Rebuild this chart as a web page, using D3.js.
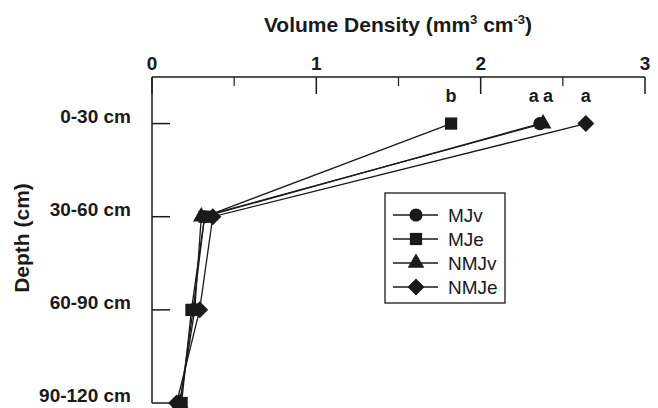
<!DOCTYPE html>
<html>
<head>
<meta charset="utf-8">
<script src="https://cdn.jsdelivr.net/npm/d3@7.9.0/dist/d3.min.js"></script>
<style>
  body { margin: 0; background: #fff; }
  text { font-family: Arial, "Liberation Sans", sans-serif; fill: #1a1a1a; }
</style>
</head>
<body>
<div id="chart"></div>
<script>
// data
const depths = ['0-30 cm', '30-60 cm', '60-90 cm', '90-120 cm'];
const depthMid = [15, 45, 75, 105];
const seriesNames = ['MJv', 'MJe', 'NMJv', 'NMJe'];
const symbols = ['circle', 'square', 'triangle', 'diamond'];
const MJv = [2.36, 0.32, 0.25, 0.17];
const MJe = [1.82, 0.32, 0.24, 0.18];
const NMJv = [2.38, 0.30, 0.26, 0.17];
const NMJe = [2.64, 0.37, 0.29, 0.15];
const letters = ['a', 'b', 'a', 'a'];
const xTicks = [0, 1, 2, 3];
const xMinorTicks = [0.5, 1.5, 2.5];

const allSeries = [MJv, MJe, NMJv, NMJe].map((vals, i) => ({
    name: seriesNames[i],
    symbol: symbols[i],
    letter: letters[i],
    values: vals.map((v, j) => ({ x: v, depth: depthMid[j] }))
}));

const width = 658;
const height = 408;

const svg = d3.select('#chart')
    .append('svg')
    .attr('width', width)
    .attr('height', height);

const xScale = d3.scaleLinear().domain([0, 3]).range([152, 645]);
const yScale = d3.scaleLinear().domain([0, 105]).range([77, 403]);

const ink = '#1a1a1a';

function symbolPath(type) {
    if (type === 'circle') return d3.symbol(d3.symbolCircle, 135)();
    if (type === 'square') return d3.symbol(d3.symbolSquare, 150)();
    if (type === 'triangle') return d3.symbol(d3.symbolTriangle, 120)();
    return 'M0,-8.5L8.5,0L0,8.5L-8.5,0Z';
}

// top x axis
const xAxis = svg.append('g');
xAxis.append('line')
    .attr('x1', xScale(0)).attr('x2', xScale(3))
    .attr('y1', yScale(0)).attr('y2', yScale(0))
    .attr('stroke', ink).attr('stroke-width', 1.5);
xAxis.selectAll('.major')
    .data(xTicks)
    .enter()
    .append('line')
    .attr('x1', d => xScale(d)).attr('x2', d => xScale(d))
    .attr('y1', yScale(0)).attr('y2', yScale(0) + 17)
    .attr('stroke', ink).attr('stroke-width', 1.5);
xAxis.selectAll('.minor')
    .data(xMinorTicks)
    .enter()
    .append('line')
    .attr('x1', d => xScale(d)).attr('x2', d => xScale(d))
    .attr('y1', yScale(0)).attr('y2', yScale(0) + 9)
    .attr('stroke', ink).attr('stroke-width', 1.2);
xAxis.selectAll('.lbl')
    .data(xTicks)
    .enter()
    .append('text')
    .attr('x', d => xScale(d))
    .attr('y', 70)
    .attr('text-anchor', 'middle')
    .attr('font-size', '19px')
    .attr('font-weight', 'bold')
    .text(d => d);

const title = svg.append('text')
    .attr('x', 398)
    .attr('y', 32)
    .attr('text-anchor', 'middle')
    .attr('font-size', '21px')
    .attr('font-weight', 'bold');
title.append('tspan').text('Volume Density (mm');
title.append('tspan').attr('font-size', '13px').attr('dy', -8).text('3');
title.append('tspan').attr('dy', 8).text(' cm');
title.append('tspan').attr('font-size', '13px').attr('dy', -8).text('-3');
title.append('tspan').attr('dy', 8).text(')');

// left y axis
const yAxis = svg.append('g');
yAxis.append('line')
    .attr('x1', xScale(0)).attr('x2', xScale(0))
    .attr('y1', yScale(0)).attr('y2', yScale(105))
    .attr('stroke', ink).attr('stroke-width', 1.5);
yAxis.selectAll('.tick')
    .data(depthMid)
    .enter()
    .append('line')
    .attr('x1', xScale(0)).attr('x2', xScale(0) + 18)
    .attr('y1', d => yScale(d)).attr('y2', d => yScale(d))
    .attr('stroke', ink).attr('stroke-width', 1.5);
yAxis.selectAll('.lbl')
    .data(depths)
    .enter()
    .append('text')
    .attr('x', 131)
    .attr('y', (d, i) => yScale(depthMid[i]) - 1)
    .attr('text-anchor', 'end')
    .attr('font-size', '19px')
    .attr('font-weight', 'bold')
    .text(d => d);

svg.append('text')
    .attr('transform', 'rotate(-90)')
    .attr('x', -238)
    .attr('y', 29)
    .attr('text-anchor', 'middle')
    .attr('font-size', '21px')
    .attr('font-weight', 'bold')
    .text('Depth (cm)');

// lines and markers (NMJv under MJv)
const drawOrder = [2, 0, 1, 3];
const line = d3.line().x(d => xScale(d.x)).y(d => yScale(d.depth));

drawOrder.forEach(i => {
    const s = allSeries[i];
    svg.append('path')
        .datum(s.values)
        .attr('d', line)
        .attr('fill', 'none')
        .attr('stroke', ink)
        .attr('stroke-width', 1.3);
});
drawOrder.forEach(i => {
    const s = allSeries[i];
    svg.append('g')
        .selectAll('path')
        .data(s.values)
        .enter()
        .append('path')
        .attr('d', symbolPath(s.symbol))
        .attr('transform', d => `translate(${xScale(d.x)},${yScale(d.depth)})`)
        .attr('fill', ink);
});

// significance letters at 0-30 cm (circle and triangle letters set side by side)
const letterShift = [-6, 0, 5, 0];
svg.append('g')
    .selectAll('text')
    .data(allSeries)
    .enter()
    .append('text')
    .attr('x', (d, i) => xScale(d.values[0].x) + letterShift[i])
    .attr('y', 102)
    .attr('text-anchor', 'middle')
    .attr('font-size', '18px')
    .attr('font-weight', 'bold')
    .text(d => d.letter);

// legend
const legend = svg.append('g').attr('transform', 'translate(385, 193)');
legend.append('rect')
    .attr('width', 120)
    .attr('height', 110)
    .attr('fill', 'none')
    .attr('stroke', ink)
    .attr('stroke-width', 1.3);

const legendItem = legend.selectAll('.legend-item')
    .data(allSeries)
    .enter()
    .append('g')
    .attr('transform', (d, i) => `translate(0, ${22 + i * 24})`);

legendItem.append('line')
    .attr('x1', 8).attr('x2', 53)
    .attr('stroke', ink).attr('stroke-width', 1.3);
legendItem.append('path')
    .attr('d', d => symbolPath(d.symbol))
    .attr('transform', 'translate(31,0)')
    .attr('fill', ink);
legendItem.append('text')
    .attr('x', 63)
    .attr('dy', '0.35em')
    .attr('font-size', '19px')
    .text(d => d.name);
</script>
</body>
</html>
